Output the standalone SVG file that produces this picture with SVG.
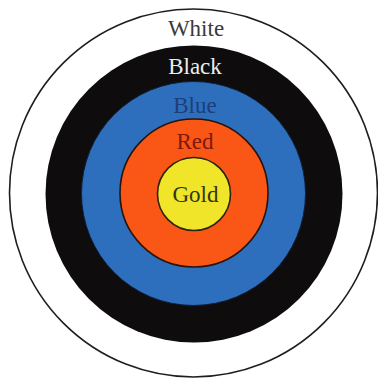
<svg xmlns="http://www.w3.org/2000/svg" width="378" height="381" viewBox="0 0 378 381">
  <style>
    .lbl { font-family: "Liberation Serif", "Times New Roman", serif; font-size: 23px; text-anchor: middle; }
  </style>
  <rect width="378" height="381" fill="#ffffff"/>
  <g id="ring-white">
    <circle cx="193.5" cy="193" r="184" fill="#ffffff" stroke="#1e1e1e" stroke-width="1.6"/>
    <text class="lbl" x="196" y="36" fill="#3a3a3a">White</text>
  </g>
  <g id="ring-black">
    <circle cx="194" cy="194" r="148.5" fill="#0e0c0c"/>
    <text class="lbl" x="195" y="74" fill="#ececec">Black</text>
  </g>
  <g id="ring-blue">
    <circle cx="193.5" cy="193.5" r="112" fill="#2d6ebd" stroke="#10203a" stroke-width="1"/>
    <text class="lbl" x="195" y="113" fill="#1c3f78">Blue</text>
  </g>
  <g id="ring-red">
    <circle cx="194" cy="193" r="74" fill="#fa5616" stroke="#2a1408" stroke-width="1.6"/>
    <text class="lbl" x="195" y="149" fill="#7c1a0e">Red</text>
  </g>
  <g id="ring-gold">
    <circle cx="194" cy="194" r="36.5" fill="#f0e528" stroke="#2a2410" stroke-width="1.6"/>
    <text class="lbl" x="195.5" y="202" fill="#2e3814">Gold</text>
  </g>
</svg>
